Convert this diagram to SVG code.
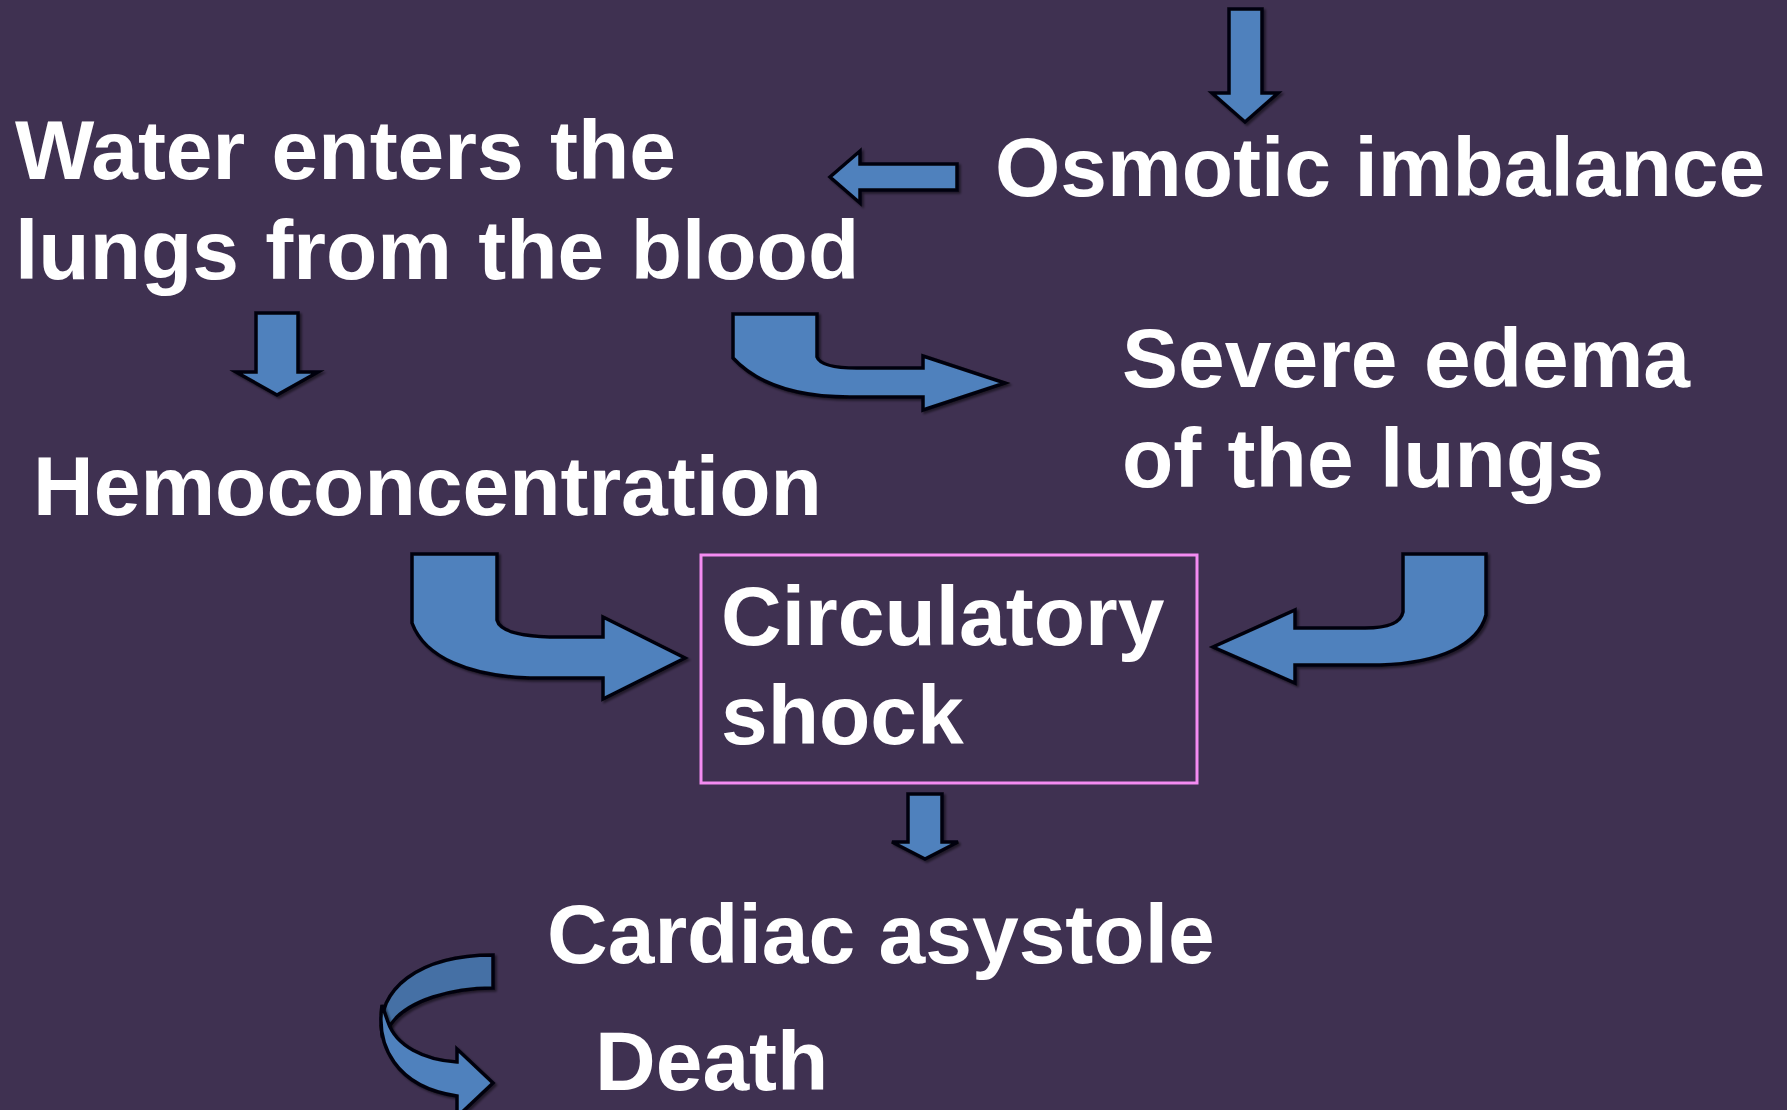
<svg xmlns="http://www.w3.org/2000/svg" width="1787" height="1110" viewBox="0 0 1787 1110">
  <style>
    .bg { fill: #3F3151; }
    .t { font-family: "Liberation Sans", Arial, sans-serif; font-weight: bold; font-size: 84px; fill: #FFFFFF; }
    .ws { word-spacing: 3px; }
    .arr { fill: #4F81BD; stroke: #05050A; stroke-width: 3.5; stroke-linejoin: miter; filter: url(#shadow); }
    .arrDark { fill: #4470A5; stroke: #05050A; stroke-width: 3.5; stroke-linejoin: miter; filter: url(#shadow); }
    .box { fill: none; stroke: #F48CF2; stroke-width: 3; }
  </style>
  <defs>
    <filter id="shadow" x="-10%" y="-10%" width="130%" height="130%">
      <feDropShadow dx="2" dy="2" stdDeviation="1" flood-color="#000000" flood-opacity="0.5"/>
    </filter>
  </defs>
  <rect class="bg" x="0" y="0" width="1787" height="1110"/>

  <g id="connectors">
    <path id="c-top" class="arr" d="M1229,9 L1262,9 L1262,93 L1278,93 L1245,122 L1212,93 L1229,93 Z"/>
    <path id="c-osm-water" class="arr" d="M957,164 L957,190 L860,190 L860,203 L830,177 L860,151 L860,164 Z"/>
    <path id="c-water-hemo" class="arr" d="M256,313 L298,313 L298,372 L318,372 L277,395 L236,372 L256,372 Z"/>
    <path id="c-water-edema" class="arr" d="M733,314 L817,314 L817,357 Q821,368 857,368 L923,368 L923,356 L1005,383 L923,410 L923,397 L850,397 C800,397 758,385 733,358 Z"/>
    <path id="c-hemo-shock" class="arr" d="M412,554 L497,554 L497,620 Q501,637 560,637 L603,637 L603,617 L685,658 L603,699 L603,678 L530,678 C470,676 425,658 412,623 Z"/>
    <path id="c-edema-shock" class="arr" d="M1403,554 L1486,554 L1486,615 C1478,645 1440,663 1380,665 L1295,665 L1295,683 L1213,647 L1295,610 L1295,628 L1365,628 Q1400,628 1403,612 Z"/>
    <path id="c-shock-cardiac" class="arr" d="M908,794 L942,794 L942,842 L958,842 L925,859 L892,842 L908,842 Z"/>
    <path id="c-cardiac-death-back" class="arrDark" d="M493,955 L493,988 C452,988 408,1000 391,1024 L382,1034 C376,990 418,955 493,955 Z"/>
    <path id="c-cardiac-death" class="arr" d="M382,1005 C376,1045 395,1087 457,1096 L457,1117 L493,1083 L457,1049 L457,1062 C424,1060 396,1046 388,1022 Z"/>
  </g>

  <g id="node-osmotic">
    <text class="t" x="995" y="196">Osmotic imbalance</text>
  </g>
  <g id="node-water">
    <text class="t ws" x="15" y="179">Water enters the</text>
    <text class="t ws" x="15" y="279">lungs from the blood</text>
  </g>
  <g id="node-hemo">
    <text class="t" x="33" y="515">Hemoconcentration</text>
  </g>
  <g id="node-edema">
    <text class="t ws" x="1122" y="387">Severe edema</text>
    <text class="t ws" x="1122" y="487">of the lungs</text>
  </g>
  <g id="node-shock">
    <rect class="box" x="701" y="555" width="496" height="228"/>
    <text class="t" x="721" y="645">Circulatory</text>
    <text class="t" x="721" y="744">shock</text>
  </g>
  <g id="node-cardiac">
    <text class="t" x="547" y="963">Cardiac asystole</text>
  </g>
  <g id="node-death">
    <text class="t" x="595" y="1090">Death</text>
  </g>
</svg>
